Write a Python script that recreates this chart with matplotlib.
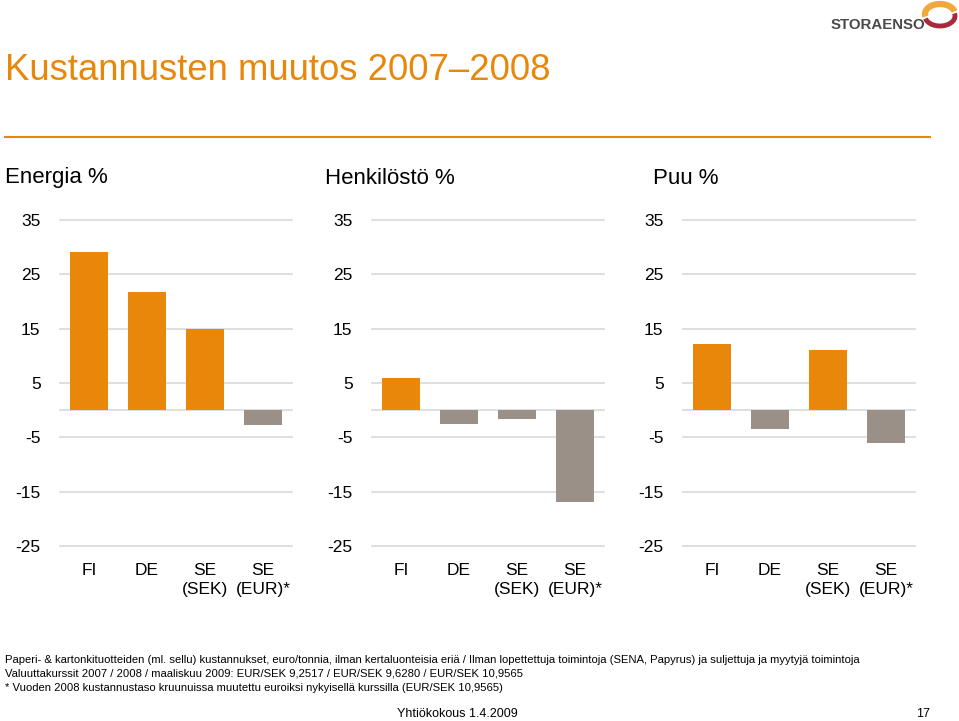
import matplotlib
matplotlib.use("Agg")
import matplotlib.pyplot as plt
from matplotlib.patches import Arc

plt.rcParams['font.family'] = ['Liberation Sans', 'DejaVu Sans']

# data (per cent change 2007-2008)
categories = ["FI", "DE", "SE\n(SEK)", "SE\n(EUR)*"]
panel_titles = ["Energia %", "Henkilöstö %", "Puu %"]
energia = [29.2, 21.7, 15.0, -2.8]
henkilosto = [5.9, -2.6, -1.7, -16.9]
puu = [12.1, -3.5, 11.0, -6.1]
yticks = [35, 25, 15, 5, -5, -15, -25]

title = "Kustannusten muutos 2007\u20132008"
notes = [
    "Paperi- & kartonkituotteiden (ml. sellu) kustannukset, euro/tonnia, ilman kertaluonteisia eriä / Ilman lopettettuja toimintoja (SENA, Papyrus) ja suljettuja ja myytyjä toimintoja",
    "Valuuttakurssit 2007 / 2008 / maaliskuu 2009: EUR/SEK 9,2517 / EUR/SEK 9,6280 / EUR/SEK 10,9565",
    "* Vuoden 2008 kustannustaso kruunuissa muutettu euroiksi nykyisellä kurssilla (EUR/SEK 10,9565)",
]
footer = "Yhtiökokous 1.4.2009"
page = "17"

ORANGE = "#E8870A"
GREY = "#9B9088"
GRID = "#D9D9D9"

W, H = 959, 721
fig = plt.figure(figsize=(W / 100, H / 100), dpi=100)

# title + rule
fig.text(5 / W, 1 - 70 / H, title, color=ORANGE, fontsize=26.3,
         va="center", ha="left")
fig.add_artist(plt.Line2D([5 / W, 930 / W], [1 - 137 / H, 1 - 137 / H],
                          color=ORANGE, lw=1.5))

# logo
fig.text(831 / W, 1 - 25 / H, "STORAENSO", color="#4A4A4A", fontsize=10.8,
         fontweight="bold", va="center", ha="left")
lax = fig.add_axes([920 / W, 1 - 34 / H, 38 / W, 34 / H])
lax.set_xlim(0, 38)
lax.set_ylim(0, 34)
lax.axis("off")
lax.add_patch(Arc((20, 20), 30, 20, theta1=10, theta2=190, color="#F2A93B", lw=4.5))
lax.add_patch(Arc((20, 18), 30, 20, theta1=190, theta2=370, color="#A8283C", lw=3.5))

data = [energia, henkilosto, puu]
lefts = [60, 372, 683]
title_x = [5, 325, 653]
top_px, bot_px = 220, 546

for i in range(3):
    ax = fig.add_axes([lefts[i] / W, 1 - bot_px / H, 232 / W, (bot_px - top_px) / H])
    vals = data[i]
    colors = [ORANGE if v > 0 else GREY for v in vals]
    x = range(len(categories))
    ax.bar(x, vals, width=0.66, color=colors, zorder=3)
    ax.set_xlim(-0.5, len(categories) - 0.5)
    ax.set_ylim(-25, 35)
    ax.set_yticks(yticks)
    ax.set_yticklabels([str(t) for t in yticks])
    for t in yticks + [0]:
        ax.axhline(t, color=GRID, lw=1.2, zorder=1, clip_on=False)
    ax.set_xticks(list(x))
    ax.set_xticklabels(categories, fontsize=12.5, linespacing=1.35)
    ax.tick_params(axis="y", length=0, pad=14, labelsize=12.5)
    ax.tick_params(axis="x", length=0, pad=12)
    for s in ax.spines.values():
        s.set_visible(False)
    fig.text(title_x[i] / W, 1 - 178 / H, panel_titles[i], fontsize=16,
             va="center", ha="left")

for j, line in enumerate(notes):
    fig.text(5 / W, 1 - (660 + j * 14) / H, line, fontsize=8.1,
             va="center", ha="left")

fig.text(457 / W, 1 - 714 / H, footer, fontsize=9, va="center", ha="center")
fig.text(930 / W, 1 - 714 / H, page, fontsize=9, va="center", ha="right")

fig.savefig("out.png", dpi=100)
